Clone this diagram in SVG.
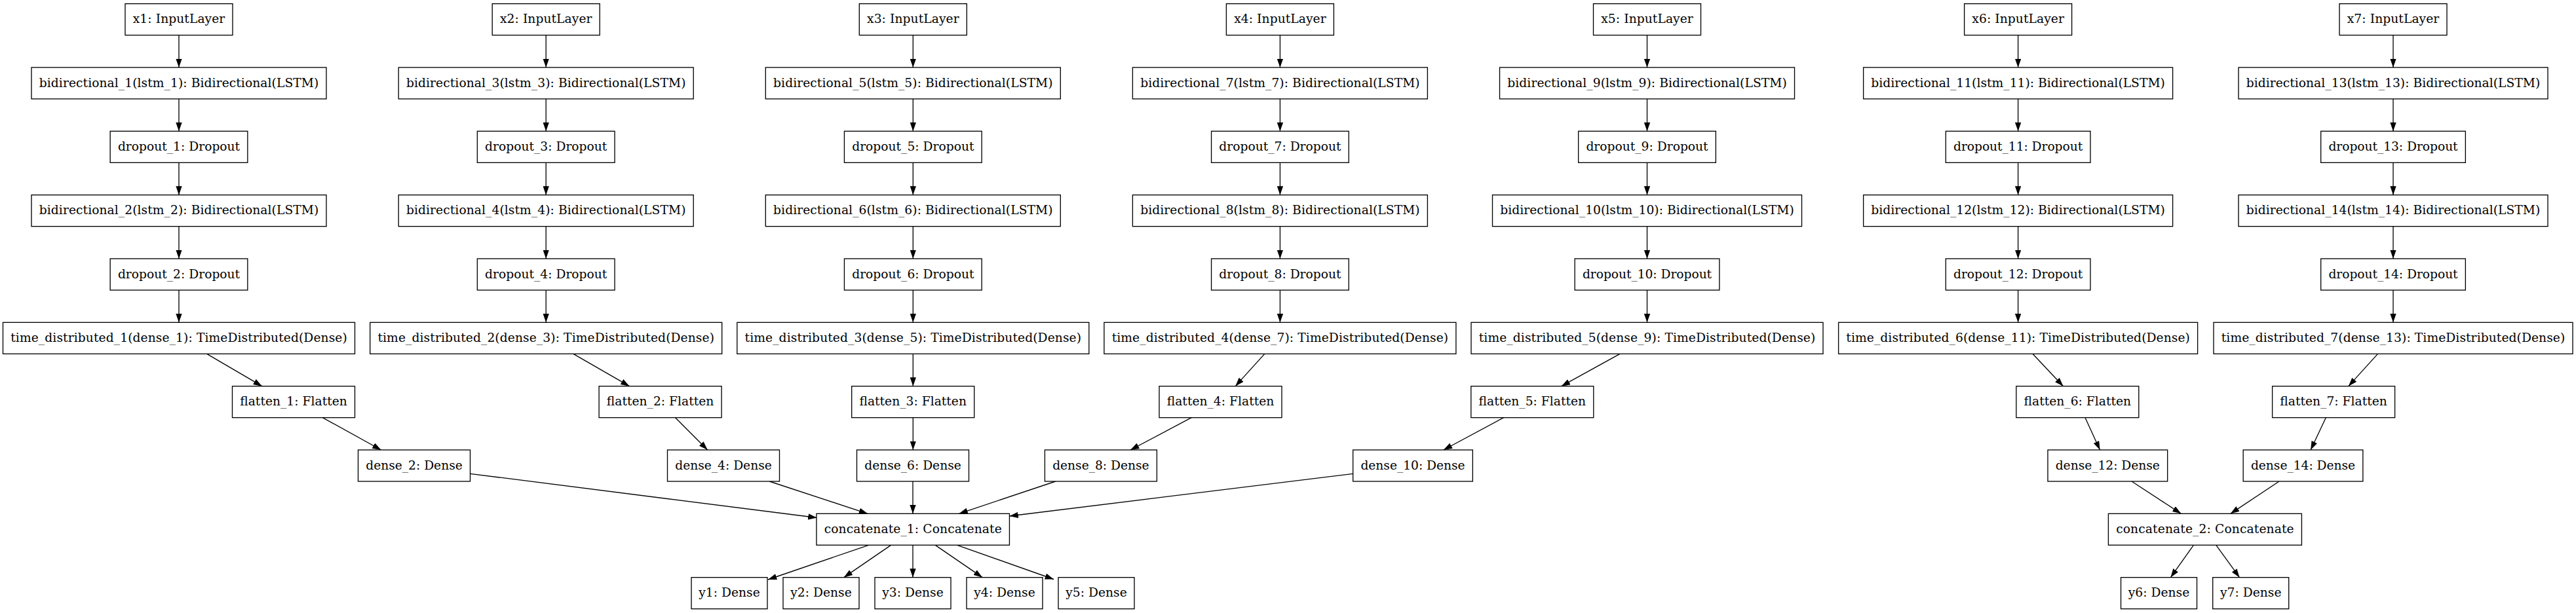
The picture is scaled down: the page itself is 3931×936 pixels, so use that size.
<svg xmlns="http://www.w3.org/2000/svg" width="3931" height="936" viewBox="0 0 3931 936">
<style>
.n rect{fill:#fff;stroke:#000;stroke-width:1.33}
.n text{font-family:"DejaVu Serif",serif;font-size:18.67px;text-anchor:middle;fill:#000}
.e line{stroke:#000;stroke-width:1.33;marker-end:url(#ah)}
</style>
<defs>
<marker id="ah" markerUnits="userSpaceOnUse" markerWidth="13.33" markerHeight="9.33" refX="13.33" refY="4.67" orient="auto" viewBox="0 0 13.33 9.33"><path d="M0,0 L13.33,4.67 L0,9.33 z" fill="#000"/></marker>
</defs>
<rect width="3931" height="936" fill="#fff"/>
<g id="connectors" class="e">
<!-- column 1 -->
<line x1="273" y1="53.67" x2="273" y2="103"/>
<line x1="273" y1="151" x2="273" y2="200.33"/>
<line x1="273" y1="248.33" x2="273" y2="297.67"/>
<line x1="273" y1="345.67" x2="273" y2="395"/>
<line x1="273" y1="443" x2="273" y2="492.33"/>
<line x1="315.7" y1="540.33" x2="399.9" y2="589.67"/>
<line x1="492.3" y1="637.67" x2="581.6" y2="687"/>
<!-- column 2 -->
<line x1="833.2" y1="53.67" x2="833.2" y2="103"/>
<line x1="833.2" y1="151" x2="833.2" y2="200.33"/>
<line x1="833.2" y1="248.33" x2="833.2" y2="297.67"/>
<line x1="833.2" y1="345.67" x2="833.2" y2="395"/>
<line x1="833.2" y1="443" x2="833.2" y2="492.33"/>
<line x1="875" y1="540.33" x2="960.5" y2="589.67"/>
<line x1="1030.6" y1="637.67" x2="1079.7" y2="687"/>
<!-- column 3 -->
<line x1="1393.3" y1="53.67" x2="1393.3" y2="103"/>
<line x1="1393.3" y1="151" x2="1393.3" y2="200.33"/>
<line x1="1393.3" y1="248.33" x2="1393.3" y2="297.67"/>
<line x1="1393.3" y1="345.67" x2="1393.3" y2="395"/>
<line x1="1393.3" y1="443" x2="1393.3" y2="492.33"/>
<line x1="1393.3" y1="540.33" x2="1393.3" y2="589.67"/>
<line x1="1393.3" y1="637.67" x2="1393.3" y2="687"/>
<!-- column 4 -->
<line x1="1953.4" y1="53.67" x2="1953.4" y2="103"/>
<line x1="1953.4" y1="151" x2="1953.4" y2="200.33"/>
<line x1="1953.4" y1="248.33" x2="1953.4" y2="297.67"/>
<line x1="1953.4" y1="345.67" x2="1953.4" y2="395"/>
<line x1="1953.4" y1="443" x2="1953.4" y2="492.33"/>
<line x1="1929.8" y1="540.33" x2="1885.2" y2="589.67"/>
<line x1="1818.2" y1="637.67" x2="1725.1" y2="687"/>
<!-- column 5 -->
<line x1="2513.5" y1="53.67" x2="2513.5" y2="103"/>
<line x1="2513.5" y1="151" x2="2513.5" y2="200.33"/>
<line x1="2513.5" y1="248.33" x2="2513.5" y2="297.67"/>
<line x1="2513.5" y1="345.67" x2="2513.5" y2="395"/>
<line x1="2513.5" y1="443" x2="2513.5" y2="492.33"/>
<line x1="2471.9" y1="540.33" x2="2382.7" y2="589.67"/>
<line x1="2294.6" y1="637.67" x2="2202.8" y2="687"/>
<!-- column 6 -->
<line x1="3079.6" y1="53.67" x2="3079.6" y2="103"/>
<line x1="3079.6" y1="151" x2="3079.6" y2="200.33"/>
<line x1="3079.6" y1="248.33" x2="3079.6" y2="297.67"/>
<line x1="3079.6" y1="345.67" x2="3079.6" y2="395"/>
<line x1="3079.6" y1="443" x2="3079.6" y2="492.33"/>
<line x1="3101.9" y1="540.33" x2="3148.5" y2="589.67"/>
<line x1="3182" y1="637.67" x2="3204.5" y2="687"/>
<!-- column 7 -->
<line x1="3652" y1="53.67" x2="3652" y2="103"/>
<line x1="3652" y1="151" x2="3652" y2="200.33"/>
<line x1="3652" y1="248.33" x2="3652" y2="297.67"/>
<line x1="3652" y1="345.67" x2="3652" y2="395"/>
<line x1="3652" y1="443" x2="3652" y2="492.33"/>
<line x1="3628.5" y1="540.33" x2="3583.8" y2="589.67"/>
<line x1="3549.3" y1="637.67" x2="3526.1" y2="687"/>
<!-- into concatenate_1 -->
<line x1="717.5" y1="723.3" x2="1246.5" y2="790.5"/>
<line x1="1174.2" y1="735" x2="1324" y2="784.33"/>
<line x1="1393" y1="735" x2="1393" y2="784.33"/>
<line x1="1610.8" y1="735" x2="1463.5" y2="784.33"/>
<line x1="2064.8" y1="723.3" x2="1540.5" y2="788"/>
<!-- out of concatenate_1 -->
<line x1="1325.7" y1="832.33" x2="1172" y2="885"/>
<line x1="1359.6" y1="832.33" x2="1287.8" y2="881.67"/>
<line x1="1393" y1="832.33" x2="1393" y2="881.67"/>
<line x1="1427.3" y1="832.33" x2="1499.1" y2="881.67"/>
<line x1="1460.6" y1="832.33" x2="1608" y2="884.5"/>
<!-- concatenate_2 -->
<line x1="3253" y1="735" x2="3328.4" y2="784.33"/>
<line x1="3478" y1="735" x2="3403.8" y2="784.33"/>
<line x1="3347.4" y1="832.33" x2="3312.4" y2="881.67"/>
<line x1="3381.8" y1="832.33" x2="3417.5" y2="881.67"/>
</g>
<!-- column 1 -->
<g id="x1" class="n"><rect x="191" y="5.67" width="164" height="48"/><text x="273" y="35.3" textLength="140.5">x1: InputLayer</text></g>
<g id="bidirectional_1" class="n"><rect x="48" y="103" width="450" height="48"/><text x="273" y="132.6" textLength="426.5">bidirectional_1(lstm_1): Bidirectional(LSTM)</text></g>
<g id="dropout_1" class="n"><rect x="168.15" y="200.33" width="209.7" height="48"/><text x="273" y="229.9" textLength="186.2">dropout_1: Dropout</text></g>
<g id="bidirectional_2" class="n"><rect x="48" y="297.67" width="450" height="48"/><text x="273" y="327.3" textLength="426.5">bidirectional_2(lstm_2): Bidirectional(LSTM)</text></g>
<g id="dropout_2" class="n"><rect x="168.15" y="395" width="209.7" height="48"/><text x="273" y="424.6" textLength="186.2">dropout_2: Dropout</text></g>
<g id="time_distributed_1" class="n"><rect x="4.5" y="492.33" width="537" height="48"/><text x="273" y="521.9" textLength="513.5">time_distributed_1(dense_1): TimeDistributed(Dense)</text></g>
<g id="flatten_1" class="n"><rect x="354.5" y="589.67" width="187" height="48"/><text x="448" y="619.3" textLength="163.5">flatten_1: Flatten</text></g>
<g id="dense_2" class="n"><rect x="546.5" y="687" width="171" height="48"/><text x="632" y="716.6" textLength="147.5">dense_2: Dense</text></g>
<!-- column 2 -->
<g id="x2" class="n"><rect x="751.2" y="5.67" width="164" height="48"/><text x="833.2" y="35.3" textLength="140.5">x2: InputLayer</text></g>
<g id="bidirectional_3" class="n"><rect x="608.2" y="103" width="450" height="48"/><text x="833.2" y="132.6" textLength="426.5">bidirectional_3(lstm_3): Bidirectional(LSTM)</text></g>
<g id="dropout_3" class="n"><rect x="728.35" y="200.33" width="209.7" height="48"/><text x="833.2" y="229.9" textLength="186.2">dropout_3: Dropout</text></g>
<g id="bidirectional_4" class="n"><rect x="608.2" y="297.67" width="450" height="48"/><text x="833.2" y="327.3" textLength="426.5">bidirectional_4(lstm_4): Bidirectional(LSTM)</text></g>
<g id="dropout_4" class="n"><rect x="728.35" y="395" width="209.7" height="48"/><text x="833.2" y="424.6" textLength="186.2">dropout_4: Dropout</text></g>
<g id="time_distributed_2" class="n"><rect x="564.7" y="492.33" width="537" height="48"/><text x="833.2" y="521.9" textLength="513.5">time_distributed_2(dense_3): TimeDistributed(Dense)</text></g>
<g id="flatten_2" class="n"><rect x="914.1" y="589.67" width="187" height="48"/><text x="1007.6" y="619.3" textLength="163.5">flatten_2: Flatten</text></g>
<g id="dense_4" class="n"><rect x="1018.5" y="687" width="171" height="48"/><text x="1104" y="716.6" textLength="147.5">dense_4: Dense</text></g>
<!-- column 3 -->
<g id="x3" class="n"><rect x="1311.3" y="5.67" width="164" height="48"/><text x="1393.3" y="35.3" textLength="140.5">x3: InputLayer</text></g>
<g id="bidirectional_5" class="n"><rect x="1168.3" y="103" width="450" height="48"/><text x="1393.3" y="132.6" textLength="426.5">bidirectional_5(lstm_5): Bidirectional(LSTM)</text></g>
<g id="dropout_5" class="n"><rect x="1288.45" y="200.33" width="209.7" height="48"/><text x="1393.3" y="229.9" textLength="186.2">dropout_5: Dropout</text></g>
<g id="bidirectional_6" class="n"><rect x="1168.3" y="297.67" width="450" height="48"/><text x="1393.3" y="327.3" textLength="426.5">bidirectional_6(lstm_6): Bidirectional(LSTM)</text></g>
<g id="dropout_6" class="n"><rect x="1288.45" y="395" width="209.7" height="48"/><text x="1393.3" y="424.6" textLength="186.2">dropout_6: Dropout</text></g>
<g id="time_distributed_3" class="n"><rect x="1124.8" y="492.33" width="537" height="48"/><text x="1393.3" y="521.9" textLength="513.5">time_distributed_3(dense_5): TimeDistributed(Dense)</text></g>
<g id="flatten_3" class="n"><rect x="1299.7" y="589.67" width="187" height="48"/><text x="1393.2" y="619.3" textLength="163.5">flatten_3: Flatten</text></g>
<g id="dense_6" class="n"><rect x="1307.5" y="687" width="171" height="48"/><text x="1393" y="716.6" textLength="147.5">dense_6: Dense</text></g>
<!-- column 4 -->
<g id="x4" class="n"><rect x="1871.4" y="5.67" width="164" height="48"/><text x="1953.4" y="35.3" textLength="140.5">x4: InputLayer</text></g>
<g id="bidirectional_7" class="n"><rect x="1728.4" y="103" width="450" height="48"/><text x="1953.4" y="132.6" textLength="426.5">bidirectional_7(lstm_7): Bidirectional(LSTM)</text></g>
<g id="dropout_7" class="n"><rect x="1848.55" y="200.33" width="209.7" height="48"/><text x="1953.4" y="229.9" textLength="186.2">dropout_7: Dropout</text></g>
<g id="bidirectional_8" class="n"><rect x="1728.4" y="297.67" width="450" height="48"/><text x="1953.4" y="327.3" textLength="426.5">bidirectional_8(lstm_8): Bidirectional(LSTM)</text></g>
<g id="dropout_8" class="n"><rect x="1848.55" y="395" width="209.7" height="48"/><text x="1953.4" y="424.6" textLength="186.2">dropout_8: Dropout</text></g>
<g id="time_distributed_4" class="n"><rect x="1684.9" y="492.33" width="537" height="48"/><text x="1953.4" y="521.9" textLength="513.5">time_distributed_4(dense_7): TimeDistributed(Dense)</text></g>
<g id="flatten_4" class="n"><rect x="1769" y="589.67" width="187" height="48"/><text x="1862.5" y="619.3" textLength="163.5">flatten_4: Flatten</text></g>
<g id="dense_8" class="n"><rect x="1594.4" y="687" width="171" height="48"/><text x="1679.9" y="716.6" textLength="147.5">dense_8: Dense</text></g>
<!-- column 5 -->
<g id="x5" class="n"><rect x="2431.5" y="5.67" width="164" height="48"/><text x="2513.5" y="35.3" textLength="140.5">x5: InputLayer</text></g>
<g id="bidirectional_9" class="n"><rect x="2288.5" y="103" width="450" height="48"/><text x="2513.5" y="132.6" textLength="426.5">bidirectional_9(lstm_9): Bidirectional(LSTM)</text></g>
<g id="dropout_9" class="n"><rect x="2408.65" y="200.33" width="209.7" height="48"/><text x="2513.5" y="229.9" textLength="186.2">dropout_9: Dropout</text></g>
<g id="bidirectional_10" class="n"><rect x="2277.5" y="297.67" width="472" height="48"/><text x="2513.5" y="327.3" textLength="448.5">bidirectional_10(lstm_10): Bidirectional(LSTM)</text></g>
<g id="dropout_10" class="n"><rect x="2403.15" y="395" width="220.7" height="48"/><text x="2513.5" y="424.6" textLength="197.2">dropout_10: Dropout</text></g>
<g id="time_distributed_5" class="n"><rect x="2245" y="492.33" width="537" height="48"/><text x="2513.5" y="521.9" textLength="513.5">time_distributed_5(dense_9): TimeDistributed(Dense)</text></g>
<g id="flatten_5" class="n"><rect x="2244.8" y="589.67" width="187" height="48"/><text x="2338.3" y="619.3" textLength="163.5">flatten_5: Flatten</text></g>
<g id="dense_10" class="n"><rect x="2064.65" y="687" width="182.7" height="48"/><text x="2156" y="716.6" textLength="159.2">dense_10: Dense</text></g>
<!-- column 6 -->
<g id="x6" class="n"><rect x="2997.6" y="5.67" width="164" height="48"/><text x="3079.6" y="35.3" textLength="140.5">x6: InputLayer</text></g>
<g id="bidirectional_11" class="n"><rect x="2843.6" y="103" width="472" height="48"/><text x="3079.6" y="132.6" textLength="448.5">bidirectional_11(lstm_11): Bidirectional(LSTM)</text></g>
<g id="dropout_11" class="n"><rect x="2969.25" y="200.33" width="220.7" height="48"/><text x="3079.6" y="229.9" textLength="197.2">dropout_11: Dropout</text></g>
<g id="bidirectional_12" class="n"><rect x="2843.6" y="297.67" width="472" height="48"/><text x="3079.6" y="327.3" textLength="448.5">bidirectional_12(lstm_12): Bidirectional(LSTM)</text></g>
<g id="dropout_12" class="n"><rect x="2969.25" y="395" width="220.7" height="48"/><text x="3079.6" y="424.6" textLength="197.2">dropout_12: Dropout</text></g>
<g id="time_distributed_6" class="n"><rect x="2805.6" y="492.33" width="548" height="48"/><text x="3079.6" y="521.9" textLength="524.5">time_distributed_6(dense_11): TimeDistributed(Dense)</text></g>
<g id="flatten_6" class="n"><rect x="3076.8" y="589.67" width="187" height="48"/><text x="3170.3" y="619.3" textLength="163.5">flatten_6: Flatten</text></g>
<g id="dense_12" class="n"><rect x="3124.95" y="687" width="182.7" height="48"/><text x="3216.3" y="716.6" textLength="159.2">dense_12: Dense</text></g>
<!-- column 7 -->
<g id="x7" class="n"><rect x="3570" y="5.67" width="164" height="48"/><text x="3652" y="35.3" textLength="140.5">x7: InputLayer</text></g>
<g id="bidirectional_13" class="n"><rect x="3416" y="103" width="472" height="48"/><text x="3652" y="132.6" textLength="448.5">bidirectional_13(lstm_13): Bidirectional(LSTM)</text></g>
<g id="dropout_13" class="n"><rect x="3541.65" y="200.33" width="220.7" height="48"/><text x="3652" y="229.9" textLength="197.2">dropout_13: Dropout</text></g>
<g id="bidirectional_14" class="n"><rect x="3416" y="297.67" width="472" height="48"/><text x="3652" y="327.3" textLength="448.5">bidirectional_14(lstm_14): Bidirectional(LSTM)</text></g>
<g id="dropout_14" class="n"><rect x="3541.65" y="395" width="220.7" height="48"/><text x="3652" y="424.6" textLength="197.2">dropout_14: Dropout</text></g>
<g id="time_distributed_7" class="n"><rect x="3378" y="492.33" width="548" height="48"/><text x="3652" y="521.9" textLength="524.5">time_distributed_7(dense_13): TimeDistributed(Dense)</text></g>
<g id="flatten_7" class="n"><rect x="3467.6" y="589.67" width="187" height="48"/><text x="3561.1" y="619.3" textLength="163.5">flatten_7: Flatten</text></g>
<g id="dense_14" class="n"><rect x="3423.15" y="687" width="182.7" height="48"/><text x="3514.5" y="716.6" textLength="159.2">dense_14: Dense</text></g>
<!-- merges and outputs -->
<g id="concatenate_1" class="n"><rect x="1245.95" y="784.33" width="294.5" height="48"/><text x="1393.2" y="813.9" textLength="271">concatenate_1: Concatenate</text></g>
<g id="concatenate_2" class="n"><rect x="3217.4" y="784.33" width="295" height="48"/><text x="3364.9" y="813.9" textLength="271.5">concatenate_2: Concatenate</text></g>
<g id="y1" class="n"><rect x="1055" y="881.67" width="116" height="48"/><text x="1113" y="911.3" textLength="93.5">y1: Dense</text></g>
<g id="y2" class="n"><rect x="1195" y="881.67" width="116" height="48"/><text x="1253" y="911.3" textLength="93.5">y2: Dense</text></g>
<g id="y3" class="n"><rect x="1335" y="881.67" width="116" height="48"/><text x="1393" y="911.3" textLength="93.5">y3: Dense</text></g>
<g id="y4" class="n"><rect x="1475" y="881.67" width="116" height="48"/><text x="1533" y="911.3" textLength="93.5">y4: Dense</text></g>
<g id="y5" class="n"><rect x="1615" y="881.67" width="116" height="48"/><text x="1673" y="911.3" textLength="93.5">y5: Dense</text></g>
<g id="y6" class="n"><rect x="3236.5" y="881.67" width="116" height="48"/><text x="3294.5" y="911.3" textLength="93.5">y6: Dense</text></g>
<g id="y7" class="n"><rect x="3376.7" y="881.67" width="116" height="48"/><text x="3434.7" y="911.3" textLength="93.5">y7: Dense</text></g>
</svg>
